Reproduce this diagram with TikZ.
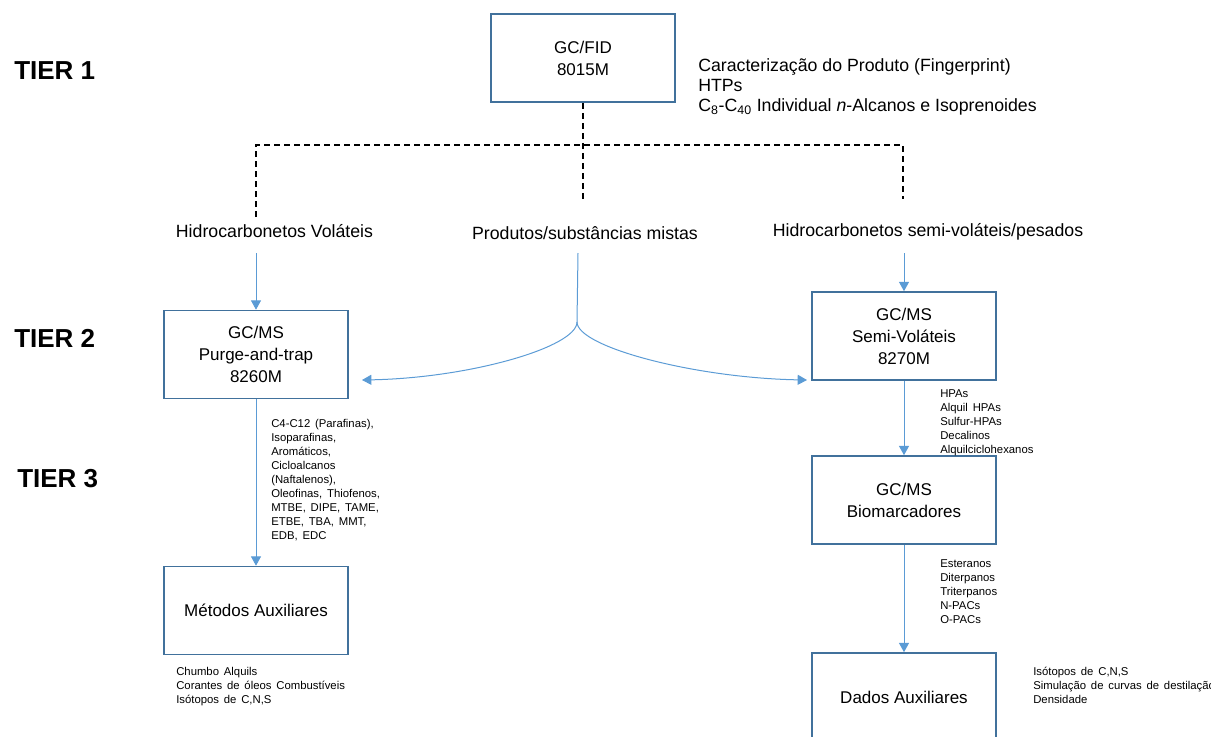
\documentclass[tikz,border=0pt]{standalone}
\usepackage{fontspec}
\setmainfont{Liberation Sans}
\usetikzlibrary{arrows.meta}
\definecolor{boxblue}{RGB}{65,113,156}
\definecolor{arrowblue}{RGB}{91,155,213}
\newcommand{\notesfont}{\fontsize{8.5}{10.5}\selectfont\spaceskip=3.6pt plus 1pt\relax}
\begin{document}
\begin{tikzpicture}[x=0.75pt,y=-0.75pt]
        % Define styles for nodes and edges
        \tikzstyle{method}=[rectangle, draw=boxblue, line width=1.2pt, minimum width=138pt, minimum height=66pt, align=center, inner sep=0pt, font=\fontsize{12.75}{16.5}\selectfont]
        \tikzstyle{group}=[anchor=base, inner sep=0pt, font=\fontsize{13.3}{16}\selectfont]
        \tikzstyle{tier}=[anchor=base west, inner sep=0pt, font=\fontsize{19.5}{22}\selectfont\bfseries]
        \tikzstyle{notes}=[anchor=north west, align=left, inner sep=0pt, font=\notesfont]
        \tikzstyle{flow}=[draw=arrowblue, line width=0.75pt, -{Triangle[width=7.5pt,length=7pt]}]
        \tikzstyle{branch}=[draw=black, line width=0.9pt, dash pattern=on 4.5pt off 3pt]

        \useasboundingbox (0,0) rectangle (1211,736);

        % Tier labels
        \node[tier] (tier1) at (14,79) {TIER 1};
        \node[tier] (tier2) at (14,347) {TIER 2};
        \node[tier] (tier3) at (17,487) {TIER 3};

        % Define method boxes
        \node[method] (fid) at (583,58) {GC/FID\\8015M};
        \node[method] (purge) at (256,354.5) {GC/MS\\Purge-and-trap\\8260M};
        \node[method] (semi) at (904,336) {GC/MS\\Semi-Voláteis\\8270M};
        \node[method] (bio) at (904,500) {GC/MS\\Biomarcadores};
        \node[method] (metodos) at (256,610.5) {Métodos Auxiliares};
        \node[method] (dados) at (904,697) {Dados Auxiliares};

        % Groups of products
        \node[group] (volateis) at (274.5,237) {Hidrocarbonetos Voláteis};
        \node[group] (mistas) at (585,239) {Produtos/substâncias mistas};
        \node[group] (pesados) at (928,236) {Hidrocarbonetos semi-voláteis/pesados};

        % Notes beside the boxes
        \node[notes, font=\fontsize{13.3}{15}\selectfont] (fidnotes) at (698,58) {Caracterização do Produto (Fingerprint)\\HTPs\\C\textsubscript{8}-C\textsubscript{40} Individual \textit{n}-Alcanos e Isoprenoides};
        \node[notes] (purgenotes) at (271,419) {C4-C12 (Parafinas),\\Isoparafinas,\\Aromáticos,\\Cicloalcanos\\(Naftalenos),\\Oleofinas, Thiofenos,\\MTBE, DIPE, TAME,\\ETBE, TBA, MMT,\\EDB, EDC};
        \node[notes] (seminotes) at (940,389) {HPAs\\Alquil HPAs\\Sulfur-HPAs\\Decalinos\\Alquilciclohexanos};
        \node[notes] (bionotes) at (940,559) {Esteranos\\Diterpanos\\Triterpanos\\N-PACs\\O-PACs};
        \node[notes] (metodosnotes) at (176,667) {Chumbo Alquils\\Corantes de óleos Combustíveis\\Isótopos de C,N,S};
        \node[notes] (dadosnotes) at (1033,667) {Isótopos de C,N,S\\Simulação de curvas de destilação\\Densidade};

        % Dashed branches from tier 1
        \coordinate (hubend) at (583,200);
        \coordinate (volcorner) at (256,145);
        \coordinate (volend) at (256,217);
        \coordinate (pescorner) at (903,145);
        \coordinate (pesend) at (903,199);
        \draw[branch] (fid.south) -- (hubend);
        \draw[branch] (volend) -- (volcorner) -- (pescorner) -- (pesend);

        % Draw flow arrows
        \coordinate (volstart) at (256,253);
        \coordinate (pesstart) at (904,253);
        \coordinate (mixstart) at (578,253);
        \coordinate (split) at (577,322);
        \coordinate (lefttip) at (362,380);
        \coordinate (righttip) at (807,380);
        \draw[flow] (volstart) -- (purge.north);
        \draw[flow] (pesstart) -- (semi.north);
        \draw[draw=arrowblue, line width=0.75pt] (mixstart) -- (split);
        \draw[flow] (split) .. controls (577,347) and (470,378) .. (lefttip);
        \draw[flow] (split) .. controls (577,347) and (695,378) .. (righttip);
        \draw[flow] (purge.south) -- (metodos.north);
        \draw[flow] (semi.south) -- (bio.north);
        \draw[flow] (bio.south) -- (dados.north);

\end{tikzpicture}
\end{document}
